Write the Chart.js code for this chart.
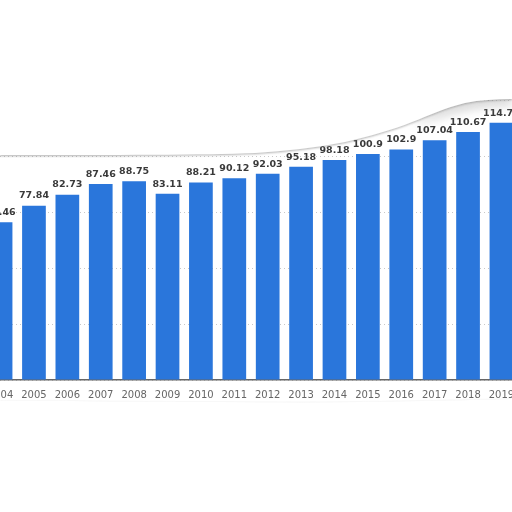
<!DOCTYPE html>
<html>
<head>
<meta charset="utf-8">
<script src="https://cdn.jsdelivr.net/npm/chart.js@4.4.0/dist/chart.umd.min.js"></script>
<style>
  html, body { margin: 0; padding: 0; background: #fff; overflow: hidden; }
  #wrap { position: relative; width: 512px; height: 512px; overflow: hidden; }
  #chart { position: absolute; left: -21px; top: 0; }
  #tear { position: absolute; left: 0; top: 0; }
</style>
</head>
<body>
<div id="wrap">
  <canvas id="chart" width="544" height="512" style="width:544px;height:512px"></canvas>
  <svg id="tear" width="512" height="512" viewBox="0 0 512 512">
    <defs>
      <filter id="shade" x="-10%" y="-20%" width="120%" height="140%">
        <feDropShadow dx="0" dy="1" stdDeviation="1.2" flood-color="#777" flood-opacity="0.6"/>
      </filter>
      <filter id="blur" x="-20%" y="-50%" width="140%" height="200%">
        <feGaussianBlur stdDeviation="5"/>
      </filter>
    </defs>
    <!-- curl shadow on the right of the top edge -->
    <path d="M410,124 C435,110 455,100 480,96 L512,95 L512,106 C485,106 462,110 440,118 Z" fill="#aaa" opacity="0.45" filter="url(#blur)"/>
    <path d="M0,0 L512,0 L512,99 C495,99 480,100 465,103 C445,108 430,115 412,122 C392,130 370,136 345,142 C315,148 285,151 255,153 C200,155 120,155 0,155 Z"
          fill="#fff" filter="url(#shade)"/>
    <path d="M0,401 C60,400 120,402 180,402 C240,402 300,403 360,402 C420,401 470,400 512,399 L512,512 L0,512 Z"
          fill="#fff" filter="url(#shade)"/>
  </svg>
</div>
<script>
// values
const years = ['2004', '2005', '2006', '2007', '2008', '2009', '2010', '2011',
  '2012', '2013', '2014', '2015', '2016', '2017', '2018', '2019'];
const values = [70.46, 77.84, 82.73, 87.46, 88.75, 83.11, 88.21, 90.12,
  92.03, 95.18, 98.18, 100.9, 102.9, 107.04, 110.67, 114.79];

const barLabels = {
  id: 'barLabels',
  afterDatasetsDraw(chart) {
    const ctx = chart.ctx;
    const meta = chart.getDatasetMeta(0);
    ctx.save();
    ctx.font = 'bold 9.5px "DejaVu Sans"';
    ctx.fillStyle = '#3a3a3a';
    ctx.textAlign = 'center';
    ctx.textBaseline = 'bottom';
    meta.data.forEach((bar, i) => {
      ctx.fillText(String(values[i]), bar.x, bar.y - 5);
    });
    ctx.restore();
  }
};

new Chart(document.getElementById('chart').getContext('2d'), {
  type: 'bar',
  data: {
    labels: years,
    datasets: [{
      data: values,
      backgroundColor: '#2a76db',
      borderWidth: 0,
      barPercentage: 0.71,
      categoryPercentage: 1
    }]
  },
  options: {
    responsive: false,
    animation: false,
    layout: { padding: { top: 100, left: 0, right: 0, bottom: 0 } },
    plugins: { legend: { display: false }, tooltip: { enabled: false } },
    scales: {
      x: {
        offset: true,
        grid: { display: false, drawTicks: false },
        border: { display: true, color: '#666', width: 1.5 },
        ticks: { color: '#666', font: { family: 'DejaVu Sans', size: 10 }, padding: 9, maxRotation: 0, autoSkip: false },
        afterFit: s => { s.height = 132; }
      },
      y: {
        min: 0,
        max: 125,
        ticks: { display: false, stepSize: 25 },
        grid: { color: '#c8c8c8', lineWidth: 1, drawTicks: false },
        border: { display: false, dash: [1, 3] },
        afterFit: s => { s.width = 0; }
      }
    }
  },
  plugins: [barLabels]
});
</script>
</body>
</html>
